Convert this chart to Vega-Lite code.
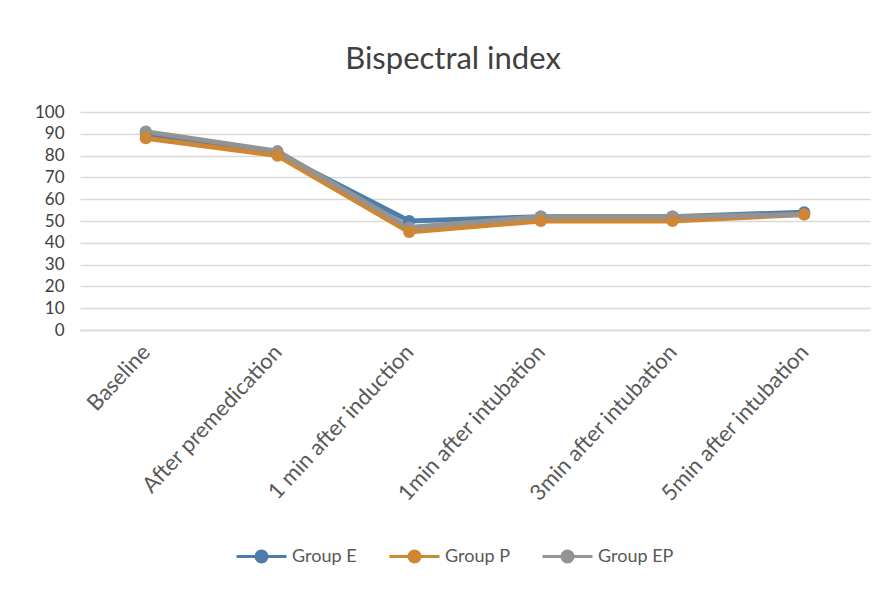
{
  "$schema": "https://vega.github.io/schema/vega-lite/v6.json",
  "autosize": {"type": "none"},
  "padding": {"left": 80, "top": 112, "right": 16, "bottom": 261},
  "width": 790,
  "height": 218,
  "background": "white",
  "title": {
    "text": "Bispectral index",
    "fontSize": 31,
    "font": "Lato",
    "fontWeight": "normal",
    "color": "#404040",
    "anchor": "middle",
    "dx": -22,
    "offset": 27
  },
  "data": {
    "values": [
      {"time": "Baseline", "group": "Group E", "bis": 90},
      {"time": "After premedication", "group": "Group E", "bis": 81},
      {"time": "1 min after induction", "group": "Group E", "bis": 50},
      {"time": "1min after intubation", "group": "Group E", "bis": 52},
      {"time": "3min after intubation", "group": "Group E", "bis": 52},
      {"time": "5min after intubation", "group": "Group E", "bis": 54},
      {"time": "Baseline", "group": "Group P", "bis": 88},
      {"time": "After premedication", "group": "Group P", "bis": 80},
      {"time": "1 min after induction", "group": "Group P", "bis": 45},
      {"time": "1min after intubation", "group": "Group P", "bis": 50},
      {"time": "3min after intubation", "group": "Group P", "bis": 50},
      {"time": "5min after intubation", "group": "Group P", "bis": 53},
      {"time": "Baseline", "group": "Group EP", "bis": 91},
      {"time": "After premedication", "group": "Group EP", "bis": 82},
      {"time": "1 min after induction", "group": "Group EP", "bis": 47},
      {"time": "1min after intubation", "group": "Group EP", "bis": 52},
      {"time": "3min after intubation", "group": "Group EP", "bis": 52},
      {"time": "5min after intubation", "group": "Group EP", "bis": 53}
    ]
  },
  "mark": {
    "type": "line",
    "strokeWidth": 5,
    "point": {"filled": true, "size": 150}
  },
  "encoding": {
    "x": {
      "field": "time",
      "type": "nominal",
      "sort": null,
      "title": null,
      "scale": {"type": "point", "padding": 0.5},
      "axis": {
        "labelAngle": -47,
        "labelFontSize": 22,
        "labelFont": "Lato",
        "labelColor": "#595959",
        "labelPadding": 18,
        "labelLimit": 0,
        "ticks": false,
        "domainColor": "#d9d9d9",
        "domainWidth": 1.5,
        "grid": false
      }
    },
    "y": {
      "field": "bis",
      "type": "quantitative",
      "title": null,
      "scale": {"domain": [0, 100], "nice": false},
      "axis": {
        "values": [0, 10, 20, 30, 40, 50, 60, 70, 80, 90, 100],
        "labelFontSize": 17,
        "labelFont": "Lato",
        "labelColor": "#404040",
        "labelPadding": 16,
        "labelOverlap": false,
        "ticks": false,
        "domain": false,
        "gridColor": "#d9d9d9",
        "gridWidth": 1.5
      }
    },
    "color": {
      "field": "group",
      "type": "nominal",
      "title": null,
      "scale": {
        "domain": ["Group E", "Group P", "Group EP"],
        "range": ["#4d7eab", "#cf8733", "#939393"]
      },
      "legend": {
        "orient": "none",
        "direction": "horizontal",
        "legendX": 155,
        "legendY": 418,
        "symbolType": "M-1,0L-0.22,0M0.22,0L1,0M0.22,0A0.22,0.22 0 1 1 -0.22,0A0.22,0.22 0 1 1 0.22,0",
        "symbolSize": 2500,
        "symbolStrokeWidth": 3,
        "labelFontSize": 18,
        "labelFont": "Lato",
        "labelColor": "#595959",
        "labelOffset": 4,
        "columnPadding": 26
      }
    },
    "order": {"field": "group"}
  },
  "config": {
    "view": {"stroke": null}
  }
}
